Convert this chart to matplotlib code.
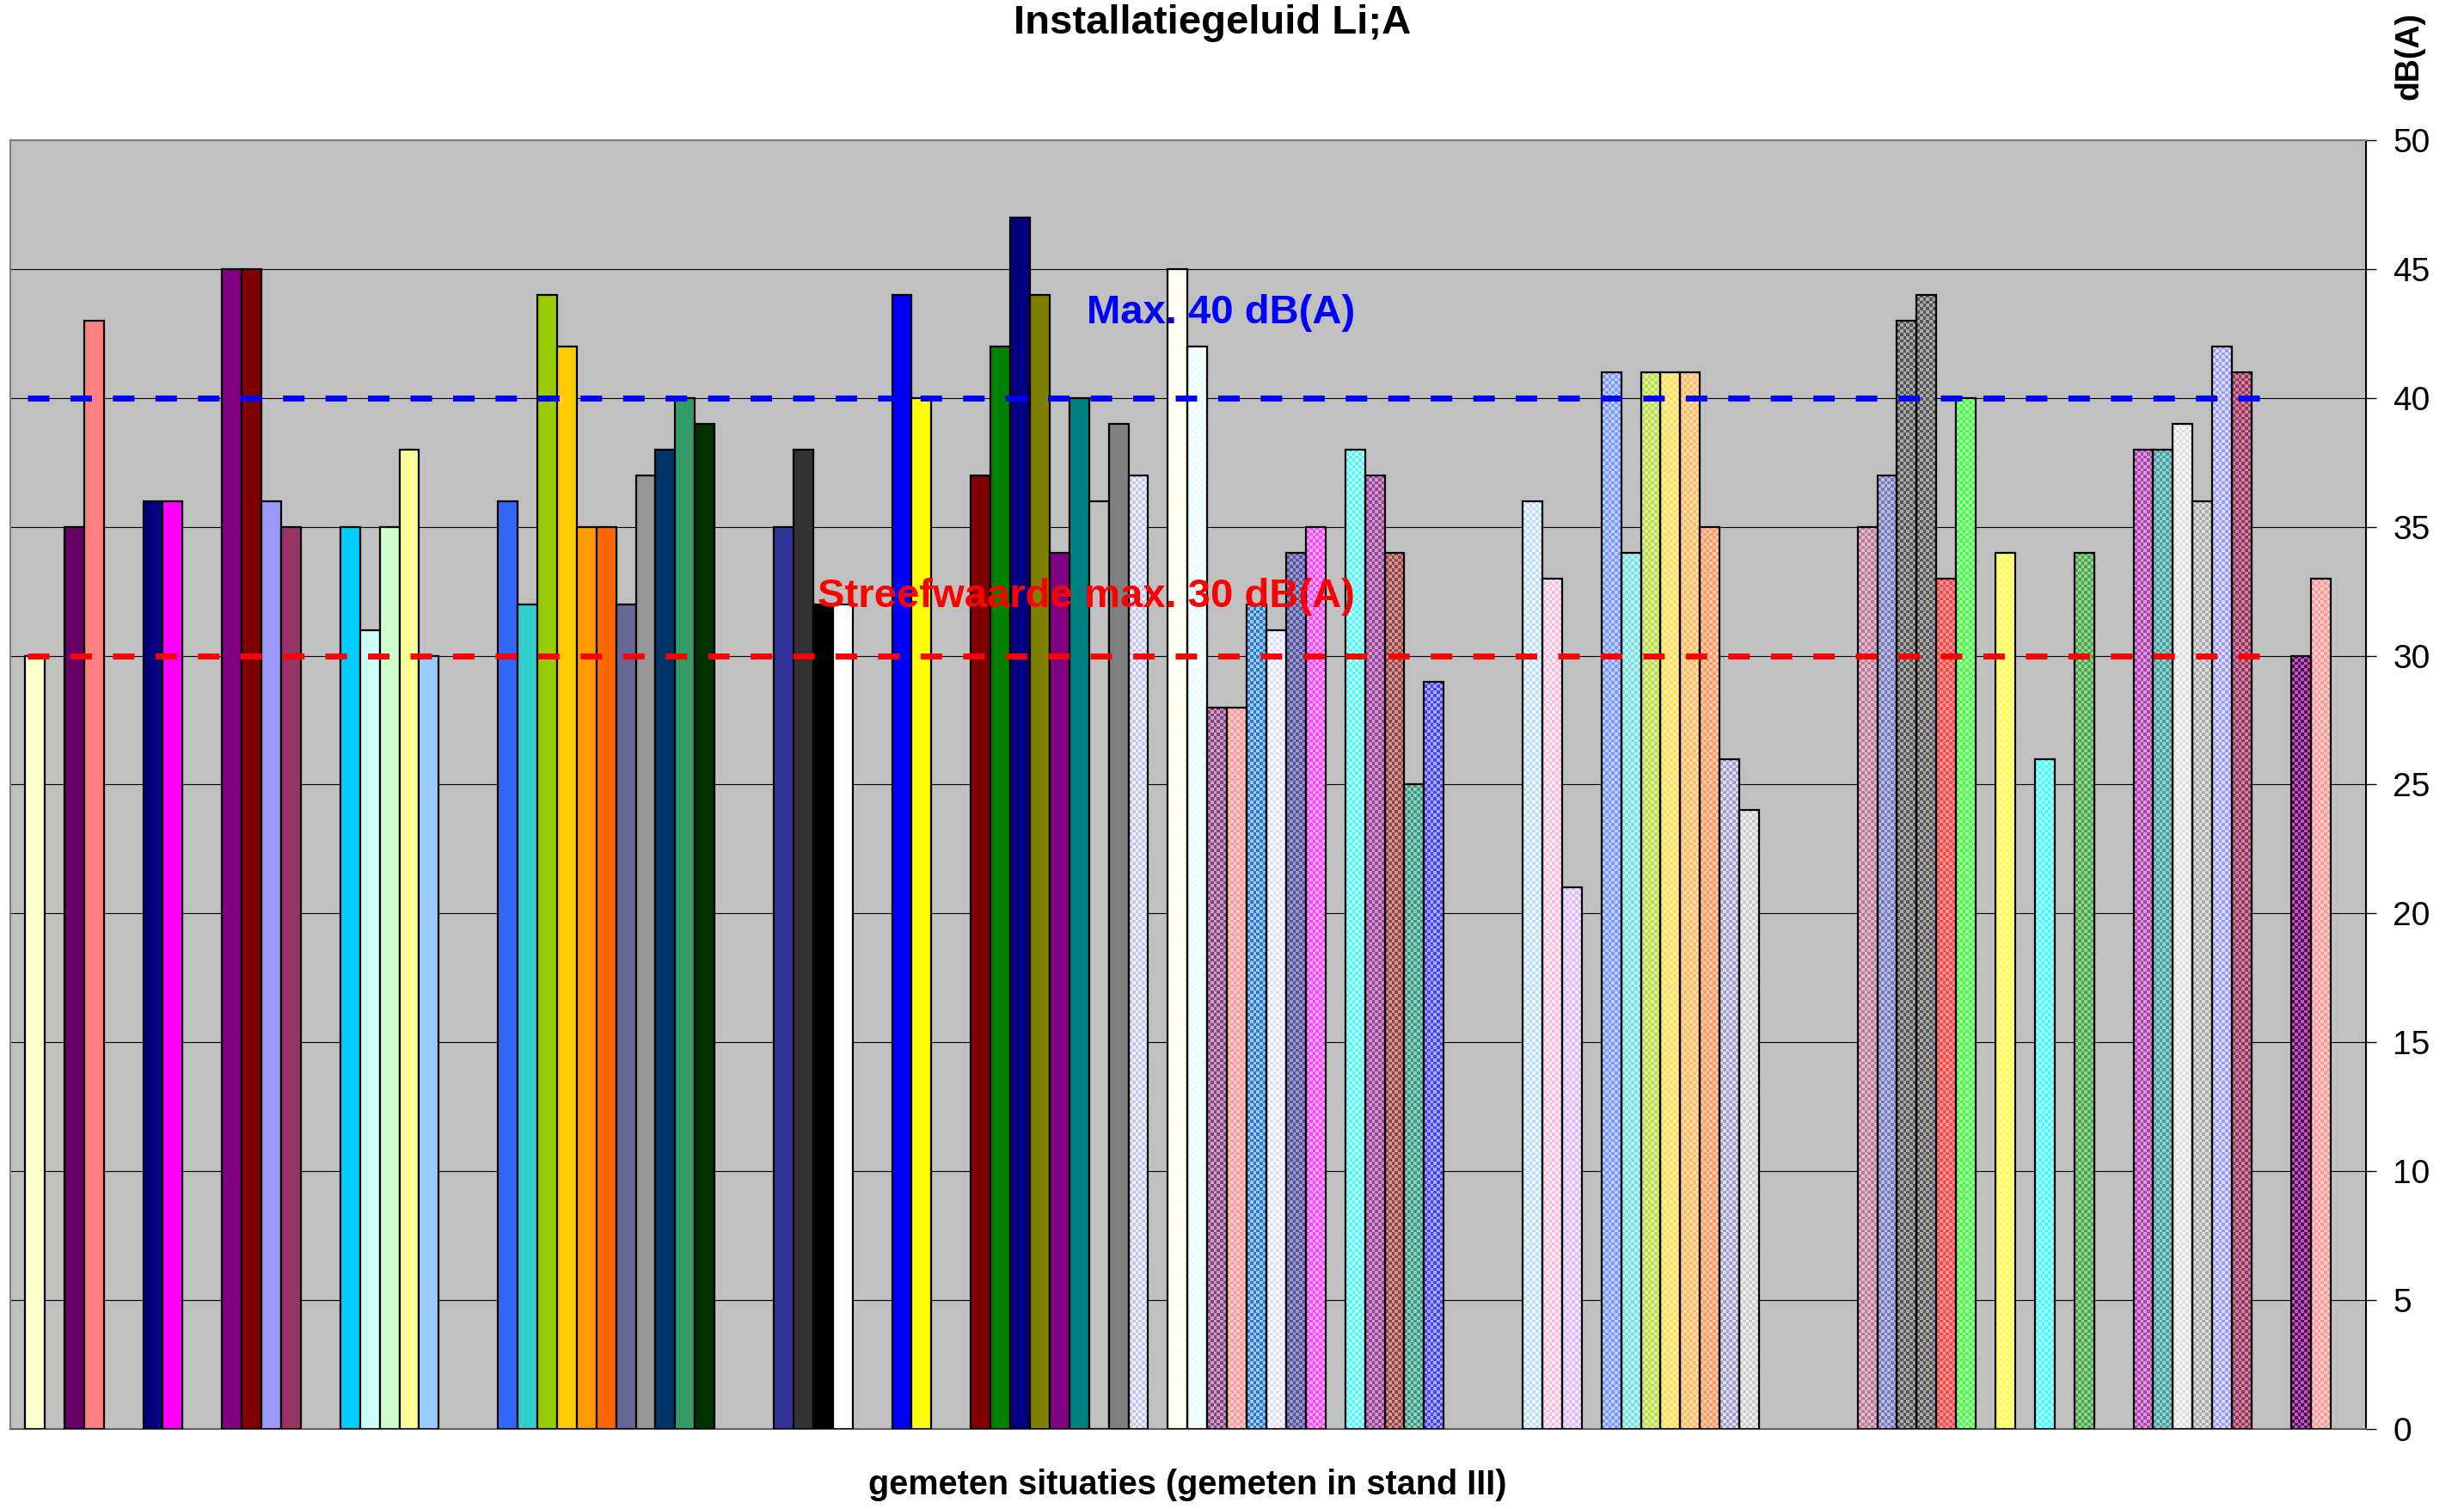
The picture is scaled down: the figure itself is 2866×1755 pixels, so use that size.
import numpy as np
import matplotlib
matplotlib.use("Agg")
import matplotlib.pyplot as plt
from matplotlib.colors import to_rgb

# Measured installation noise levels per situation, dB(A); None = no measurement
levels = [
    30, None, 35, 43, None, None, 36, 36, None, None,
    45, 45, 36, 35, None, None, 35, 31, 35, 38,
    30, None, None, None, 36, 32, 44, 42, 35, 35,
    32, 37, 38, 40, 39, None, None, None, 35, 38,
    32, 32, None, None, 44, 40, None, None, 37, 42,
    47, 44, 34, 40, 36, 39, 37, None, 45, 42,
    28, 28, 32, 31, 34, 35, None, 38, 37, 34,
    25, 29, None, None, None, None, 36, 33, 21, None,
    41, 34, 41, 41, 41, 35, 26, 24, None, None,
    None, None, None, 35, 37, 43, 44, 33, 40, None,
    34, None, 26, None, 34, None, None, 38, 38, 39,
    36, 42, 41, None, None, 30, 33,
]

# Fill colour of each series
fill_colors = [
    "#FFFFCC", None, "#660066", "#FF8080", None, None, "#000080", "#FF00FF", None, None,
    "#800080", "#800000", "#9999FF", "#993366", None, None, "#00CCFF", "#CCFFFF", "#CCFFCC", "#FFFF99",
    "#99CCFF", None, None, None, "#3366FF", "#33CCCC", "#99CC00", "#FFCC00", "#FF9900", "#FF6600",
    "#666699", "#969696", "#003366", "#339966", "#003300", None, None, None, "#333399", "#333333",
    "#000000", "#FFFFFF", None, None, "#0000FF", "#FFFF00", None, None, "#800000", "#008000",
    "#000080", "#808000", "#800080", "#008080", "#C0C0C0", "#808080", "#C4C4F4", None, "#FFFFE0", "#E0FFFF",
    "#884477", "#FF9999", "#3377CC", "#DCDCFF", "#555599", "#FF44FF", None, "#44FFFF", "#994499", "#994444",
    "#339988", "#4444FF", None, None, None, None, "#BBDDFF", "#FFBBDD", "#DDBBFF", None,
    "#7799FF", "#77E0E0", "#B8DD55", "#FFDD55", "#FFBB66", "#FF9966", "#A0A0CC", "#CCCCCC", None, None,
    None, None, None, "#BB7799", "#7777BB", "#555555", "#555555", "#FF4444", "#44FF44", None,
    "#FFFF44", None, "#44FFFF", None, "#44AA44", None, None, "#AA44AA", "#44A0A0", "#DDDDDD",
    "#AAAAAA", "#9999FF", "#993366", None, None, "#660066", "#FF9999",
]

# Second colour of the dithered fill pattern (None = solid fill)
pattern_colors = [None] * len(levels)
pattern_colors[56:66] = ["#F0F0FF", None, "#FFFFFF", "#FFFFFF", "#CCA0CC", "#FFCCCC",
                         "#99CCFF", "#FFFFFF", "#9999CC", "#FFAAFF"]
pattern_colors[67:72] = ["#CCFFFF", "#CC99CC", "#CC9999", "#99CCBB", "#AAAAFF"]
pattern_colors[76:79] = ["#F0F7FF", "#FFEEF5", "#F3E8FF"]
pattern_colors[80:88] = ["#C0D0FF", "#C0F5F5", "#E0F099", "#FFEEAA", "#FFDDAA",
                         "#FFCCAA", "#DDDDEE", "#EEEEEE"]
pattern_colors[93:99] = ["#DDBBCC", "#BBBBDD", "#AAAAAA", "#AAAAAA", "#FF9999", "#AAFFAA"]
pattern_colors[100] = "#FFFFAA"
pattern_colors[102] = "#AAFFFF"
pattern_colors[104] = "#99CC99"
pattern_colors[107:113] = ["#DD99DD", "#99CCCC", "#F7F7F7", "#DDDDDD", "#DDDDFF", "#CC8899"]
pattern_colors[115:117] = ["#AA66AA", "#FFCCCC"]

title = "Installatiegeluid Li;A"
x_title = "gemeten situaties (gemeten in stand III)"
y_title = "dB(A)"
limit_max, limit_max_text = 40, "Max. 40 dB(A)"
limit_target, limit_target_text = 30, "Streefwaarde max. 30 dB(A)"
y_ticks = list(range(0, 51, 5))

W, H = 2866, 1755
fig = plt.figure(figsize=(W / 100, H / 100), dpi=100)
fig.patch.set_facecolor("white")

ax_left, ax_right, ax_top, ax_bottom = 12, 2752, 163, 1662
ax = fig.add_axes([ax_left / W, 1 - ax_bottom / H,
                   (ax_right - ax_left) / W, (ax_bottom - ax_top) / H])
ax.set_facecolor("#C0C0C0")

regular = ["Liberation Sans", "DejaVu Sans"]

# bars
pos = np.array([i for i, v in enumerate(levels) if v is not None])
vals = np.array([levels[i] for i in pos], dtype=float)
solid = [pattern_colors[i] is None for i in pos]
faces = [fill_colors[i] if s else "none" for i, s in zip(pos, solid)]
ax.bar(pos, vals, width=1.0, align="edge", color=faces, edgecolor="black",
       linewidth=1.6, zorder=4)

# dithered fills
for i in pos:
    pc = pattern_colors[i]
    if pc is None:
        continue
    v = levels[i]
    rows, cols = max(int(round(v * 8)), 1), 6
    c1, c2 = np.array(to_rgb(fill_colors[i])), np.array(to_rgb(pc))
    yy, xx = np.mgrid[0:rows, 0:cols]
    mask = ((yy + xx) % 2 == 0)[..., None]
    tex = np.where(mask, c1, c2)
    ax.imshow(tex, extent=(i, i + 1, 0, v), origin="lower", aspect="auto",
              interpolation="nearest", zorder=3)

# limit lines
lw = 5.0
for y, col in [(limit_max, "#0000FF"), (limit_target, "#FF0000")]:
    ax.plot([0.13, 113.4], [y, y], color=col, lw=lw,
            linestyle=(0, (18 / lw, 17.6 / lw)), solid_capstyle="butt",
            dash_capstyle="butt", zorder=5)

ax.text(67.5, 43.3, limit_max_text, color="#0000FF", fontsize=34,
        fontweight="bold", family=regular, ha="right", va="center", zorder=6)
ax.text(67.5, 32.3, limit_target_text, color="#FF0000", fontsize=34,
        fontweight="bold", family=regular, ha="right", va="center", zorder=6)

ax.set_xlim(-0.742, 118.8)
ax.set_ylim(0, 50)
ax.set_xticks([])
ax.yaxis.tick_right()
ax.set_yticks(y_ticks)
ax.tick_params(axis="y", direction="out", length=8.5, width=1.0, pad=14,
               labelsize=28, colors="black")
for lab in ax.get_yticklabels():
    lab.set_family(regular)
ax.yaxis.grid(True, color="black", linewidth=0.8)
ax.set_axisbelow(True)

for side in ["left", "top"]:
    ax.spines[side].set_color("#808080")
    ax.spines[side].set_linewidth(1.5)
ax.spines["bottom"].set_color("#606060")
ax.spines["bottom"].set_linewidth(1.5)
ax.spines["right"].set_color("black")
ax.spines["right"].set_linewidth(1.5)

fig.text(1410 / W, 1 - 27 / H, title, ha="center", va="center",
         fontsize=34, fontweight="bold", family=regular)
fig.text(1381 / W, 1 - 1727 / H, x_title, ha="center", va="center",
         fontsize=28.5, fontweight="bold", family=regular)
fig.text(2803 / W, 1 - 65 / H, y_title, ha="center", va="center",
         rotation=90, fontsize=27, fontweight="bold", family=regular)

fig.savefig("out.png", dpi=100, facecolor="white")
